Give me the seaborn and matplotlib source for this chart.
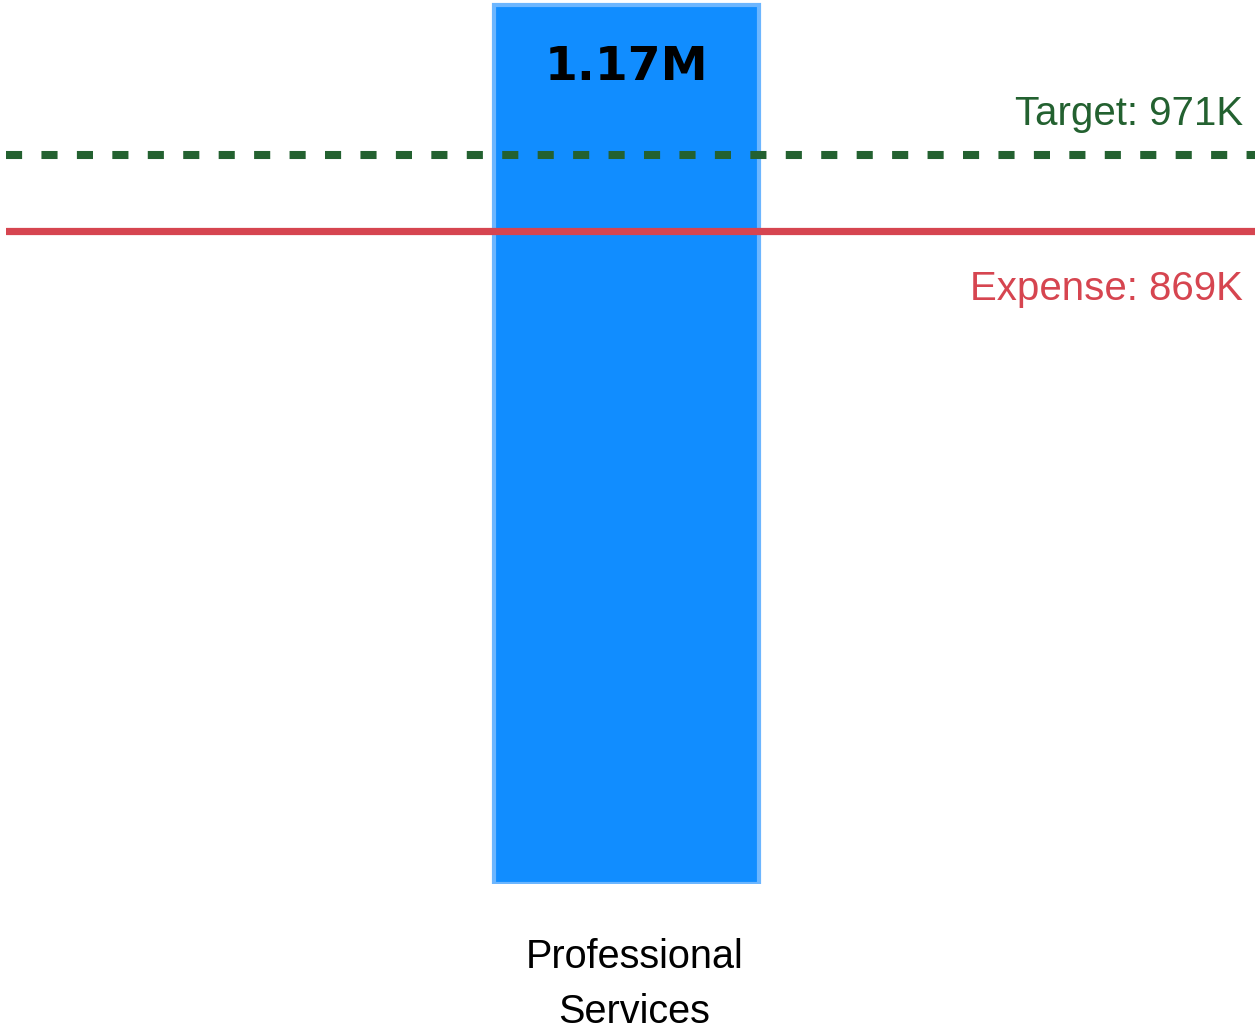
import matplotlib
matplotlib.use("Agg")
import matplotlib.pyplot as plt
import matplotlib.transforms as mtransforms
import seaborn as sns
import pandas as pd
import textwrap

categories = ["Professional Services"]
values = [1170000]
target_value = 971000
expense_value = 869000
value_labels = ["1.17M"]
target_label = "Target: 971K"
expense_label = "Expense: 869K"

BAR = "#118DFF"
BAR_EDGE = "#6CB6FF"
GREEN = "#236130"
RED = "#D64550"

sns.set_theme(style="white")
plt.rcParams["font.family"] = ["Liberation Sans", "DejaVu Sans"]

W, H = 1255, 1031
fig = plt.figure(figsize=(W / 100, H / 100), dpi=100)
ax = fig.add_axes([6 / W, 1 - 884 / H, 1249 / W, 884 / H])

df = pd.DataFrame({"category": categories, "value": values})
sns.barplot(data=df, x="category", y="value", ax=ax, color=BAR, saturation=1,
            width=0.212, edgecolor=BAR_EDGE, linewidth=3, zorder=1)

ax.set_ylim(0, values[0] * 884 / 879)
ax.set_xlim(-0.4968, 0.5032)

ax.axhline(target_value, color=GREEN, lw=5.8, ls=(0, (2.0, 2.4)),
           dash_capstyle="butt", zorder=3)
ax.axhline(expense_value, color=RED, lw=5.2, zorder=3)

trans = ax.get_yaxis_transform()
xr = (1243 - 6) / 1249
ax.annotate(target_label, xy=(xr, target_value), xycoords=trans,
            xytext=(0, 21.6), textcoords="offset points",
            ha="right", va="baseline", fontsize=29, color=GREEN)
ax.annotate(expense_label, xy=(xr, expense_value), xycoords=trans,
            xytext=(0, -49.7), textcoords="offset points",
            ha="right", va="baseline", fontsize=29, color=RED)

for i, (v, lab) in enumerate(zip(values, value_labels)):
    ax.annotate(lab, xy=(i, v), xycoords="data", xytext=(0, -54),
                textcoords="offset points", ha="center", va="baseline",
                fontsize=34, fontweight="bold", color="black",
                family=["DejaVu Sans"])

ax.set_xticks(range(len(categories)))
ax.set_xticklabels([textwrap.fill(c, 12) for c in categories],
                   fontsize=28.5, color="black", linespacing=1.55)
ax.tick_params(axis="x", length=0, pad=39)
shift = mtransforms.ScaledTranslation(8 / 100, 0, fig.dpi_scale_trans)
for lbl in ax.get_xticklabels():
    lbl.set_transform(lbl.get_transform() + shift)
ax.set_yticks([])
ax.set_xlabel("")
ax.set_ylabel("")
for s in ax.spines.values():
    s.set_visible(False)

fig.savefig("out.png", dpi=100, facecolor="white")
